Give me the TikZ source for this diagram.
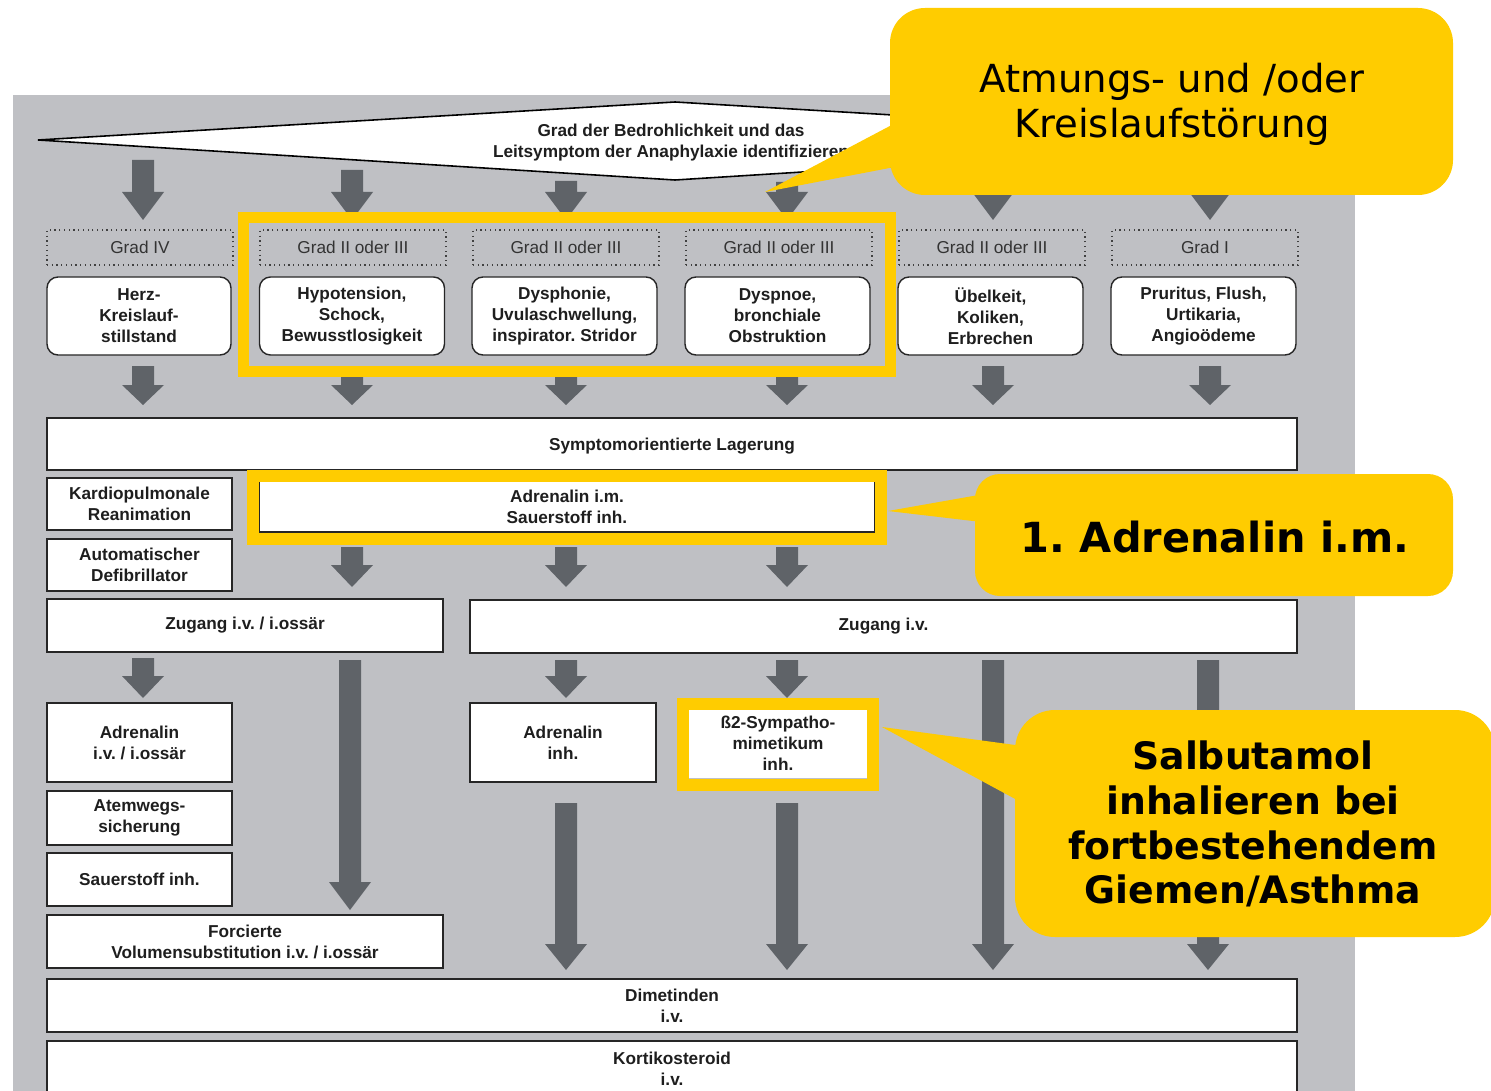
\documentclass[tikz,border=0pt]{standalone}
\usepackage{fontspec}
\setmainfont{Liberation Sans}
\newfontfamily\callfont{DejaVu Sans}
\definecolor{panel}{RGB}{191,192,196}
\definecolor{agray}{RGB}{95,99,104}
\definecolor{yel}{RGB}{255,204,0}
\definecolor{ink}{RGB}{30,30,30}
% block arrow: x, y of shaft top, y of tip, head length
\newcommand\barrow[4]{\fill[agray] (#1-11,#2) -- (#1+11,#2) -- (#1+11,#3-#4) -- (#1+21,#3-#4) -- (#1,#3) -- (#1-21,#3-#4) -- (#1-11,#3-#4) -- cycle;}
\begin{document}
\frenchspacing
\begin{tikzpicture}[x=0.02cm,y=-0.02cm,
  txt/.style={font=\fontsize{9.8pt}{12pt}\selectfont\bfseries, align=center, inner sep=0pt, outer sep=0pt, text=ink},
  wbox/.style={txt, draw=black!85, line width=0.8pt, fill=white},
  rbox/.style={wbox, rounded corners=0.22cm},
  gbox/.style={draw=black!75, dotted, line width=0.7pt, font=\fontsize{9.8pt}{12pt}\selectfont, align=center, inner sep=0pt, text=black!80},
  sz/.style 2 args={minimum width=#1*0.02cm, minimum height=#2*0.02cm},
  yframe/.style={draw=yel, line width=0.23cm},
  callout/.style={fill=yel},
  ctext/.style={align=center, inner sep=0pt, text=black}]
\clip (0,0) rectangle (1491,1091);
\fill[white] (0,0) rectangle (1491,1091);
\fill[panel] (13,95) rectangle (1355,1100);

% top decision shape
\draw[fill=white, line width=0.9pt] (38,140) -- (675,102) -- (1312,140) -- (675,180) -- cycle;
\node[txt] (diam) at (671,142.5) {Grad der Bedrohlichkeit und das\\Leitsymptom der Anaphylaxie identifizieren};

% top arrows
\barrow{143}{160}{220}{28}
\barrow{352}{170}{220}{28}
\barrow{566}{181}{220}{28}
\barrow{787}{182}{220}{28}
\barrow{993}{182}{220}{28}
\barrow{1210}{182}{220}{28}

% grade labels
\node[gbox, sz={186}{35}] (g1) at (140,247.5) {Grad IV};
\node[gbox, sz={186}{35}] (g2) at (353,247.5) {Grad II oder III};
\node[gbox, sz={186}{35}] (g3) at (566,247.5) {Grad II oder III};
\node[gbox, sz={186}{35}] (g4) at (779,247.5) {Grad II oder III};
\node[gbox, sz={186}{35}] (g5) at (992,247.5) {Grad II oder III};
\node[gbox, sz={186}{35}] (g6) at (1205,247.5) {Grad I};

% symptoms
\node[rbox, sz={184}{78}] (s1) at (139,316) {Herz-\\Kreislauf-\\stillstand};
\node[rbox, sz={185}{78}] (s2) at (352,316) {Hypotension,\\Schock,\\Bewusstlosigkeit};
\node[rbox, sz={185}{78}] (s3) at (564.5,316) {Dysphonie,\\Uvulaschwellung,\\inspirator. Stridor};
\node[rbox, sz={185}{78}] (s4) at (777.5,316) {Dyspnoe,\\bronchiale\\Obstruktion};
\node[rbox, sz={185}{78}] (s5) at (990.5,316) {Übelkeit,\\Koliken,\\Erbrechen};
\node[rbox, sz={185}{78}] (s6) at (1203.5,316) {Pruritus, Flush,\\Urtikaria,\\Angioödeme};

% arrows to Lagerung
\barrow{143}{366}{405}{20}
\barrow{352}{366}{405}{20}
\barrow{566}{366}{405}{20}
\barrow{787}{366}{405}{20}
\barrow{993}{366}{405}{20}
\barrow{1210}{366}{405}{20}

\node[wbox, sz={1250}{52}, text height=7.2pt, text depth=0pt] (lag) at (672,444) {Symptomorientierte Lagerung};
\node[wbox, sz={185}{52}] (kardio) at (139.5,504) {Kardiopulmonale\\Reanimation};
\node[wbox, sz={185}{52}] (defib) at (139.5,565) {Automatischer\\Defibrillator};
\node[wbox, sz={616}{51}] (adrim) at (567,506.5) {Adrenalin i.m.\\Sauerstoff inh.};

\barrow{352}{547}{587}{22}
\barrow{566}{547}{587}{22}
\barrow{787}{547}{587}{22}

\node[wbox, sz={396}{53}] (zug1) at (245,625.5) {Zugang i.v. / i.ossär};
\node[wbox, sz={827}{53}] (zug2) at (883.5,626.5) {Zugang i.v.};

% lower arrows
\barrow{143}{658}{698}{22}
\barrow{350}{660}{910}{28}
\barrow{566}{660}{698}{22}
\barrow{787}{660}{698}{22}
\barrow{993}{660}{970}{26}
\barrow{1208}{660}{970}{26}
\barrow{566}{803}{970}{26}
\barrow{787}{803}{970}{26}

\node[wbox, sz={185}{79}] (adriv) at (139.5,742.5) {Adrenalin\\i.v. / i.ossär};
\node[wbox, sz={185}{54}] (atem) at (139.5,818) {Atemwegs-\\sicherung};
\node[wbox, sz={185}{53}] (sauer) at (139.5,879.5) {Sauerstoff inh.};
\node[wbox, sz={396}{53}] (forc) at (245,941.5) {Forcierte\\Volumensubstitution i.v. / i.ossär};
\node[wbox, sz={186}{79}] (adrinh) at (563,742.5) {Adrenalin\\inh.};
\node[txt, fill=white, sz={180}{69}] (beta) at (778,743.5) {ß2-Sympatho-\\mimetikum\\inh.};
\node[wbox, sz={1250}{53}] (dim) at (672,1005.5) {Dimetinden\\i.v.};
\node[wbox, sz={1250}{56}] (kort) at (672,1069) {Kortikosteroid\\i.v.};

% yellow highlight frames
\draw[yframe] (243.5,217.5) rectangle (890.5,371.5);
\draw[yframe] (253,476) rectangle (881,539);
\draw[yframe] (683,704) rectangle (873,785);

% callouts
\fill[callout] (765,192) -- (905,118) -- (905,165) -- cycle;
\fill[callout, rounded corners=0.7cm] (890,8) rectangle (1453,195);
\node[ctext, font=\callfont\fontsize{22pt}{25.5pt}\selectfont] (c1) at (1172,104) {Atmungs- und /oder\\Kreislaufstörung};

\fill[callout] (888,511) -- (990,493) -- (990,523) -- cycle;
\fill[callout, rounded corners=0.5cm] (975,474) rectangle (1453,596);
\node[ctext, font=\callfont\bfseries\fontsize{23.6pt}{28pt}\selectfont] (c2) at (1215,537) {1. Adrenalin i.m.};

\fill[callout] (882,727) -- (1030,747) -- (1030,807) -- cycle;
\fill[callout, rounded corners=0.8cm] (1015,710) rectangle (1495,937);
\node[ctext, font=\callfont\bfseries\fontsize{21.5pt}{25.5pt}\selectfont] (c3) at (1253,824) {Salbutamol\\inhalieren bei\\fortbestehendem\\Giemen/Asthma};
\end{tikzpicture}
\end{document}
